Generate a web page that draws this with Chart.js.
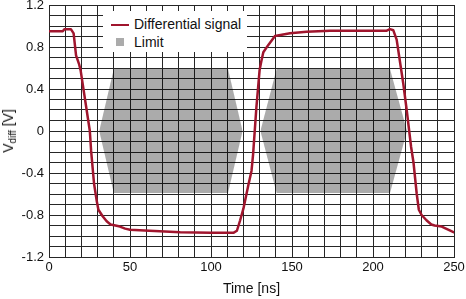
<!DOCTYPE html>
<html><head><meta charset="utf-8">
<script src="https://cdn.jsdelivr.net/npm/chart.js@4/dist/chart.umd.min.js"></script>
<style>
html,body{margin:0;padding:0;background:#fff;}
#wrap{position:relative;width:466px;height:299px;font-family:'Liberation Sans',Arial,sans-serif;color:#111;}
canvas{position:absolute;left:0;top:0;}
#ytitle{position:absolute;left:8px;top:131px;transform:translate(-50%,-50%) rotate(-90deg);font-size:14px;line-height:16px;white-space:nowrap;}
#ytitle sub{font-size:10px;line-height:0;vertical-align:-3px;}
#legend{position:absolute;left:103px;top:11px;width:144px;height:41px;background:#fff;}
.lg-line{position:absolute;left:8px;top:12.75px;width:18px;height:2.5px;background:#a0152d;}
.lg-box{position:absolute;left:13px;top:26.5px;width:8px;height:8px;background:rgba(0,0,0,0.33);}
.lg-txt{position:absolute;left:31px;font-size:14px;line-height:16px;white-space:nowrap;}
</style></head>
<body>
<div id="wrap">
<canvas id="c" width="466" height="299"></canvas>
<div id="ytitle">V<sub>diff</sub> [V]</div>
<div id="legend">
  <div class="lg-line"></div><div class="lg-txt" id="lg1" style="top:5px"></div>
  <div class="lg-box"></div><div class="lg-txt" id="lg2" style="top:22.5px"></div>
</div>
</div>
<script>
// ---- data ----
const seriesNames = ['Differential signal', 'Limit'];
const signalTime = [0, 8.5, 9.5, 13.5, 15.2, 16.7, 18.5, 19.5, 25.2, 26, 27.8, 29.5, 30.5, 33, 35.6, 38, 41, 43.8, 47, 50, 62, 81, 100, 113.8,
  116, 118, 120, 123, 125, 126, 128, 130, 131, 132.3, 135.4, 139.5, 148.8, 159, 173.5, 208.5, 210.5, 212.5,
  214.6, 218.7, 220.8, 223.5, 225, 227, 228.3, 230, 233, 236, 238, 242.4, 250];
const signalVolt = [0.95, 0.95, 0.97, 0.97, 0.93, 0.72, 0.64, 0.58, 0.0, -0.19, -0.5, -0.67, -0.75, -0.81, -0.86, -0.89, -0.9, -0.91, -0.93, -0.94, -0.95, -0.965, -0.97, -0.97,
  -0.95, -0.85, -0.74, -0.52, -0.38, -0.22, 0.22, 0.58, 0.66, 0.75, 0.82, 0.905, 0.93, 0.946, 0.955, 0.955, 0.97, 0.96,
  0.87, 0.45, 0.2, -0.15, -0.3, -0.6, -0.75, -0.8, -0.85, -0.89, -0.9, -0.91, -0.965];
const limit1Time = [31, 40, 110.5, 119.5];
const limit2Time = [130.5, 140.5, 210.5, 221];
const limitHigh = [0, 0.59, 0.59, 0];
const limitLow = [0, -0.59, -0.59, 0];
const xTickValues = [0, 50, 100, 150, 200, 250];
const xTickLabels = ['0', '50', '100', '150', '200', '250'];
const yTickValues = [-1.2, -0.8, -0.4, 0, 0.4, 0.8, 1.2];
const yTickLabels = ['-1.2', '-0.8', '-0.4', '0', '0.4', '0.8', '1.2'];
const xTitle = 'Time [ns]';

document.getElementById('lg1').textContent = seriesNames[0];
document.getElementById('lg2').textContent = seriesNames[1];

const RED = '#a0152d';
const LIMIT_FILL = 'rgba(0,0,0,0.33)';
const GRID = '#262626';
const FONT = "'Liberation Sans', Arial, sans-serif";

function pts(xs, ys) { return xs.map((x, i) => ({x: x, y: ys[i]})); }
function lookup(v, vals, labels) {
  for (let i = 0; i < vals.length; i++) if (Math.abs(v - vals[i]) < 1e-6) return labels[i];
  return '';
}
function limitDs(xs, ys) {
  return {label: seriesNames[1], data: pts(xs, ys), borderWidth: 0, borderColor: 'rgba(0,0,0,0)',
    backgroundColor: LIMIT_FILL, fill: 'origin', pointRadius: 0, tension: 0};
}

new Chart(document.getElementById('c'), {
  type: 'line',
  data: {
    datasets: [
      {label: seriesNames[0], data: pts(signalTime, signalVolt), borderColor: RED, borderWidth: 2.5,
        pointRadius: 0, tension: 0, fill: false, borderJoinStyle: 'round', borderCapStyle: 'round'},
      limitDs(limit1Time, limitHigh), limitDs(limit1Time, limitLow),
      limitDs(limit2Time, limitHigh), limitDs(limit2Time, limitLow)
    ]
  },
  options: {
    responsive: false, animation: false, devicePixelRatio: 1,
    layout: {padding: {left: 0, top: 5, right: 12, bottom: 0}},
    plugins: {legend: {display: false}, tooltip: {enabled: false}, title: {display: false}},
    scales: {
      x: {
        type: 'linear', min: 0, max: 250,
        grid: {color: GRID, lineWidth: 1, drawTicks: false},
        border: {color: GRID, width: 1},
        ticks: {stepSize: 10, autoSkip: false, maxRotation: 0, minRotation: 0, padding: 3, color: '#111',
          font: {family: FONT, size: 13}, callback: v => lookup(v, xTickValues, xTickLabels)},
        title: {display: true, text: xTitle, color: '#111', font: {family: FONT, size: 14}, padding: {top: 0, bottom: 1}},
        afterFit: s => { s.height = 42; s.paddingLeft = 0; s.paddingRight = 0; }
      },
      y: {
        type: 'linear', min: -1.2, max: 1.2,
        grid: {color: GRID, lineWidth: 1, drawTicks: false},
        border: {color: GRID, width: 1},
        ticks: {stepSize: 0.1, autoSkip: false, padding: 5, color: '#111',
          font: {family: FONT, size: 13}, callback: v => lookup(v, yTickValues, yTickLabels)},
        afterFit: s => { s.width = 49; s.paddingTop = 0; s.paddingBottom = 0; }
      }
    }
  }
});
</script>
</body></html>
